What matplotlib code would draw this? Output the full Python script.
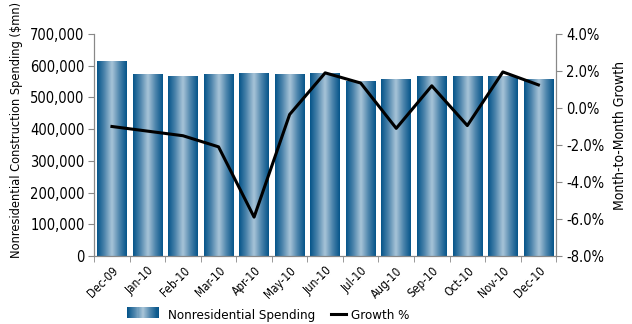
import numpy as np
import matplotlib
matplotlib.use('Agg')
from matplotlib import pyplot as plt
from matplotlib.colors import LinearSegmentedColormap
from matplotlib.legend_handler import HandlerBase
from matplotlib.patches import Rectangle
from matplotlib.lines import Line2D
from matplotlib.ticker import FuncFormatter, FixedLocator

plt.rcParams['font.family'] = ['DejaVu Sans']
plt.rcParams['font.stretch'] = 'condensed'

months = ['Dec-09', 'Jan-10', 'Feb-10', 'Mar-10', 'Apr-10', 'May-10', 'Jun-10',
          'Jul-10', 'Aug-10', 'Sep-10', 'Oct-10', 'Nov-10', 'Dec-10']
spending = [615000, 574000, 567000, 574000, 577000, 574000, 577000,
            549000, 558000, 567000, 567000, 567000, 558000]
growth = [-1.0, -1.25, -1.5, -2.1, -5.9, -0.35, 1.9,
          1.35, -1.1, 1.2, -0.95, 1.95, 1.25]

# dark edge -> light centre -> dark edge, like a shaded cylinder
grad = LinearSegmentedColormap.from_list(
    'bar', ['#06558a', '#4f86ad', '#a9c5d8', '#4f86ad', '#06558a'])
ramp = np.linspace(0, 1, 64).reshape(1, -1)

fig = plt.figure(figsize=(6.32, 3.24), dpi=100)
ax = fig.add_axes([0.149, 0.210, 0.731, 0.685])
ax2 = ax.twinx()

x = np.arange(len(months))
width = 0.83
bars = ax.bar(x, spending, width, color='none', edgecolor='none', zorder=1)
for b in bars:
    x0, w, h = b.get_x(), b.get_width(), b.get_height()
    ax.imshow(ramp, cmap=grad, aspect='auto', extent=[x0, x0 + w, 0, h],
              interpolation='bicubic', zorder=1)

ax2.plot(x, growth, color='black', lw=2.2, zorder=3)
ax.set_zorder(1)
ax2.set_zorder(2)
ax2.patch.set_visible(False)

ax.set_xlim(-0.5, len(months) - 0.5)
ax.set_ylim(0, 700000)
ax2.set_ylim(-8, 4)
ax.set_yticks(np.arange(0, 700001, 100000))
ax2.set_yticks(np.arange(-8, 4.01, 2))
ax.yaxis.set_major_formatter(FuncFormatter(lambda v, p: f'{v:,.0f}'))
ax2.yaxis.set_major_formatter(FuncFormatter(lambda v, p: f'{v:.1f}%'))

ax.set_xticks(x)
ax.set_xticklabels(months, rotation=45, ha='right', rotation_mode='anchor', fontsize=8.5)
ax.tick_params(axis='x', which='major', length=0, pad=6)
ax.xaxis.set_minor_locator(FixedLocator(np.arange(-0.5, len(months), 1)))
ax.tick_params(axis='x', which='minor', length=4, color='#888888')

ax.tick_params(axis='y', length=4, color='#888888', labelsize=10.5, pad=3)
ax2.tick_params(axis='y', length=4, color='#888888', labelsize=10.5, pad=3)

for a in (ax, ax2):
    a.spines['top'].set_visible(False)
    for s in ('left', 'right', 'bottom'):
        a.spines[s].set_color('#888888')

ax.set_ylabel('Nonresidential Construction Spending ($mn)', fontsize=9.2)
ax.yaxis.set_label_coords(-0.155, 0.57)
ax2.set_ylabel('Month-to-Month Growth', fontsize=10)
ax2.yaxis.set_label_coords(1.123, 0.545)


class GradientHandler(HandlerBase):
    def create_artists(self, legend, orig, xd, yd, w, h, fontsize, trans):
        n = 30
        cols = grad(np.linspace(0, 1, n))
        return [Rectangle((xd + w * i / n, yd), w / n + 0.2, h, facecolor=cols[i],
                          edgecolor='none', transform=trans) for i in range(n)]


bar_handle = Rectangle((0, 0), 1, 1)
line_handle = Line2D([], [], color='black', lw=2.2)
fig.legend([bar_handle], ['Nonresidential Spending'],
           handler_map={bar_handle: GradientHandler()},
           loc='lower left', bbox_to_anchor=(0.182, -0.03), frameon=False,
           fontsize=9.5, handlelength=2.4, handleheight=0.9, handletextpad=0.7)
fig.legend([line_handle], ['Growth %'],
           loc='lower left', bbox_to_anchor=(0.505, -0.03), frameon=False,
           fontsize=9.5, handlelength=1.1, handletextpad=0.4)

fig.savefig('out.png', dpi=100)
